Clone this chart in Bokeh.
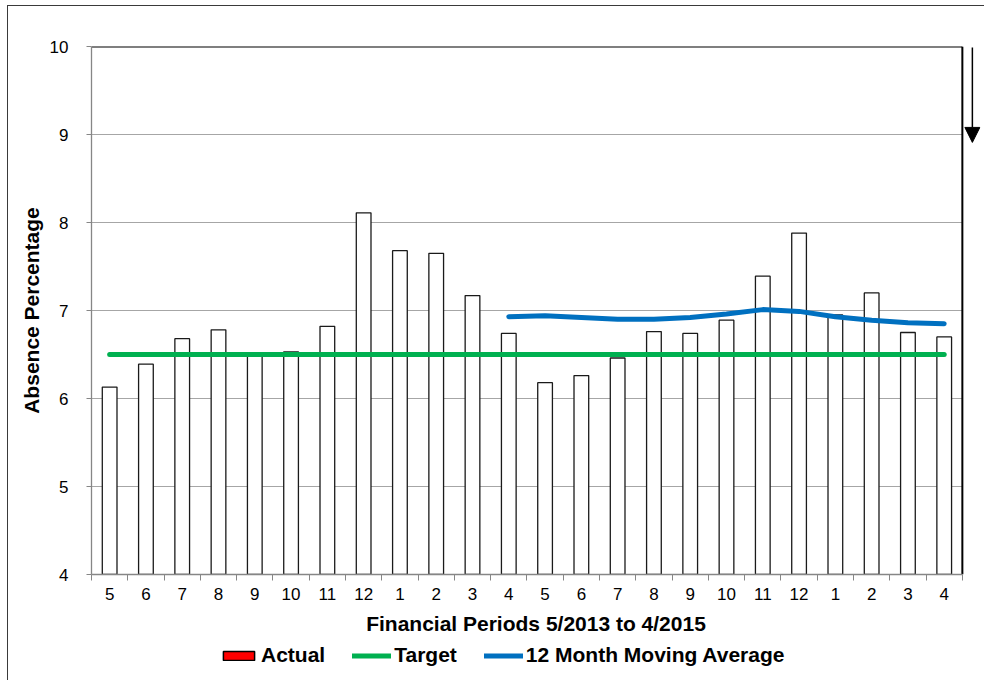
from bokeh.plotting import figure
from bokeh.layouts import column
from bokeh.models import (FixedTicker, Legend, LegendItem, Arrow, NormalHead,
                          ColumnDataSource, Range1d)
from bokeh.embed import file_html
from bokeh.resources import INLINE
import math

# ---------------- data ----------------
periods = ["5", "6", "7", "8", "9", "10", "11", "12", "1", "2", "3", "4",
           "5", "6", "7", "8", "9", "10", "11", "12", "1", "2", "3", "4"]
actual = [6.13, 6.39, 6.68, 6.78, 6.48, 6.53, 6.82, 8.11, 7.68, 7.65, 7.17, 6.74,
          6.18, 6.26, 6.46, 6.76, 6.74, 6.89, 7.39, 7.88, 6.95, 7.20, 6.75, 6.70]
target = [6.5] * 24
moving_avg = [math.nan] * 11 + [6.93, 6.94, 6.92, 6.90, 6.90, 6.92, 6.96,
                                7.01, 6.99, 6.93, 6.89, 6.86, 6.85]
y_ticks = [4, 5, 6, 7, 8, 9, 10]
series_names = ["Actual", "Target", "12 Month Moving Average"]

FONT = "Liberation Sans"
GRAY = "#868686"
GREEN = "#00b050"
BLUE = "#0070c0"

n = len(periods)
xs = list(range(1, n + 1))
x_lo, x_hi = 0.5, n + 0.5
y_lo, y_hi = y_ticks[0], y_ticks[-1]
src = ColumnDataSource(dict(x=xs, actual=actual, target=target, ma=moving_avg))

p = figure(width=984, height=642, output_backend="svg", toolbar_location=None,
           x_range=Range1d(x_lo, x_hi + 0.5), y_range=Range1d(y_lo, y_hi),
           min_border_left=91, min_border_top=46, min_border_right=4,
           min_border_bottom=68, background_fill_color="white",
           border_fill_alpha=0, outline_line_color=None)

# grid (drawn as segments so it stops at the plot area's right edge)
p.xgrid.grid_line_color = None
p.ygrid.grid_line_color = None
p.segment(x0=[x_lo] * (len(y_ticks) - 2), x1=[x_hi] * (len(y_ticks) - 2),
          y0=y_ticks[1:-1], y1=y_ticks[1:-1], line_color="#a6a6a6", line_width=1)

# bars
p.vbar(x="x", top="actual", bottom=0, width=0.405, source=src,
       fill_color="white", line_color="#1a1a1a", line_width=1.3)

# lines
p.line(x="x", y="target", source=src, line_color=GREEN,
       line_width=5, line_cap="round", line_join="round")
p.line(x="x", y="ma", source=src, line_color=BLUE,
       line_width=5, line_cap="round", line_join="round")

# plot area top and right edges
p.segment(x0=[x_lo, x_hi], x1=[x_hi, x_hi], y0=[y_hi, y_lo], y1=[y_hi, y_hi],
          line_color="black", line_width=2)

# arrow on the right
p.add_layout(Arrow(end=NormalHead(size=15, fill_color="black", line_color="black"),
                   x_start=24.776, y_start=9.99, x_end=24.776, y_end=8.91,
                   line_color="black", line_width=1.5))

# x axis
xa = p.xaxis[0]
xa.bounds = (x_lo, x_hi)
xa.ticker = FixedTicker(ticks=xs, minor_ticks=[x + 0.5 for x in range(0, n + 1)])
xa.major_label_overrides = {x: lab for x, lab in zip(xs, periods)}
xa.axis_line_color = GRAY
xa.axis_line_width = 1.3
xa.major_tick_line_color = None
xa.major_tick_out = 6
xa.major_tick_in = 0
xa.minor_tick_line_color = GRAY
xa.minor_tick_out = 6
xa.minor_tick_in = 0
xa.major_label_standoff = 7
xa.major_label_text_font = FONT
xa.major_label_text_font_size = "17px"
xa.major_label_text_color = "black"
xa.axis_label = "Financial Periods 5/2013 to 4/2015"
xa.axis_label_text_font = FONT
xa.axis_label_text_font_size = "21px"
xa.axis_label_text_font_style = "bold"
xa.axis_label_text_color = "black"
xa.axis_label_standoff = 9

# y axis
ya = p.yaxis[0]
ya.ticker = FixedTicker(ticks=y_ticks)
ya.axis_line_color = GRAY
ya.axis_line_width = 1.3
ya.major_tick_line_color = GRAY
ya.major_tick_out = 5
ya.major_tick_in = 0
ya.minor_tick_line_color = None
ya.major_label_standoff = 18
ya.major_label_text_font = FONT
ya.major_label_text_font_size = "17px"
ya.major_label_text_color = "black"
ya.axis_label = "Absence Percentage"
ya.axis_label_text_font = FONT
ya.axis_label_text_font_size = "21px"
ya.axis_label_text_font_style = "bold"
ya.axis_label_text_color = "black"
ya.axis_label_standoff = 4

# ---------------- legend strip ----------------
lg = figure(width=984, height=38, output_backend="svg", toolbar_location=None,
            x_range=Range1d(0, 1), y_range=Range1d(0, 1),
            min_border_left=0, min_border_right=0, min_border_top=0,
            min_border_bottom=0, background_fill_alpha=0, border_fill_alpha=0,
            outline_line_color=None)
lg.axis.visible = False
lg.grid.visible = False
nan_src = ColumnDataSource(dict(x=[math.nan], y=[math.nan]))
r_actual = lg.rect(x="x", y="y", width=1, height=1, source=nan_src,
                   fill_color="#ff0000", line_color="#000000", line_width=1.5)
r_target = lg.line(x="x", y="y", source=nan_src, line_color=GREEN,
                   line_width=5, line_cap="round")
r_ma = lg.line(x="x", y="y", source=nan_src, line_color=BLUE,
               line_width=5, line_cap="round")
legend = Legend(items=[LegendItem(label=series_names[0], renderers=[r_actual]),
                       LegendItem(label=series_names[1], renderers=[r_target]),
                       LegendItem(label=series_names[2], renderers=[r_ma])],
                orientation="horizontal", location=(128, 13),
                glyph_width=39, glyph_height=11, label_standoff=3, spacing=27,
                padding=0, margin=0, border_line_color=None,
                background_fill_alpha=0,
                label_text_font=FONT, label_text_font_size="21px",
                label_text_font_style="bold", label_text_color="black")
lg.add_layout(legend, "center")

layout = column(p, lg, spacing=0,
                styles={"box-shadow": "inset 7px 5px 0 0 #ffffff, inset 8px 6px 0 0 #3a3a3a",
                        "background-color": "white"})

open("out.html", "w").write(file_html(layout, INLINE))
